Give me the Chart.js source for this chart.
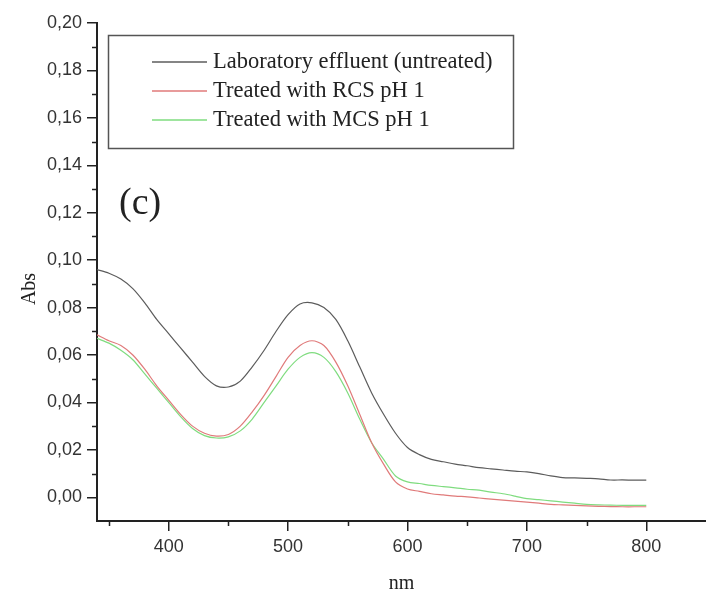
<!DOCTYPE html>
<html>
<head>
<meta charset="utf-8">
<script src="https://cdn.jsdelivr.net/npm/chart.js@4/dist/chart.umd.min.js"></script>
<style>
html,body{margin:0;padding:0;background:#fff;}
canvas{display:block;}
</style>
</head>
<body>
<canvas id="c" width="706" height="597"></canvas>
<script>
// wavelength (nm)
const wavelengths = [340,350,360,370,380,390,400,410,420,430,440,450,460,470,480,490,500,510,520,530,540,550,560,570,580,590,600,610,620,630,640,650,660,670,680,690,700,710,720,730,740,750,760,770,780,790,800];
const untreated = [0.096,0.0945,0.092,0.088,0.082,0.075,0.069,0.063,0.057,0.051,0.047,0.0465,0.049,0.055,0.062,0.070,0.077,0.0815,0.082,0.080,0.075,0.066,0.055,0.044,0.035,0.027,0.021,0.018,0.016,0.015,0.014,0.0133,0.0125,0.012,0.0115,0.011,0.0107,0.010,0.009,0.0083,0.0082,0.008,0.0078,0.0073,0.0073,0.0072,0.0072];
const treatedRCS = [0.0685,0.066,0.064,0.060,0.054,0.047,0.041,0.035,0.030,0.027,0.0258,0.0265,0.030,0.036,0.043,0.051,0.059,0.064,0.066,0.064,0.057,0.047,0.035,0.023,0.014,0.0065,0.0035,0.0025,0.0015,0.001,0.0005,0.0002,-0.0003,-0.0008,-0.0012,-0.0016,-0.002,-0.0025,-0.003,-0.0032,-0.0034,-0.0036,-0.0038,-0.0039,-0.004,-0.004,-0.004];
const treatedMCS = [0.067,0.065,0.062,0.058,0.052,0.046,0.040,0.034,0.029,0.026,0.025,0.0255,0.028,0.033,0.040,0.047,0.054,0.059,0.061,0.059,0.053,0.044,0.033,0.023,0.016,0.009,0.0065,0.0058,0.005,0.0045,0.004,0.0034,0.003,0.0022,0.0015,0.0005,-0.0006,-0.001,-0.0015,-0.002,-0.0025,-0.003,-0.0032,-0.0033,-0.0034,-0.0034,-0.0034];
const seriesLabels = ["Laboratory effluent (untreated)", "Treated with RCS pH 1", "Treated with MCS pH 1"];
const xTickValues = [400,500,600,700,800];
const yTickValues = [0,0.02,0.04,0.06,0.08,0.10,0.12,0.14,0.16,0.18,0.20];
const xMinorTicks = [350,450,550,650,750,850];
const yMinorTicks = [0.01,0.03,0.05,0.07,0.09,0.11,0.13,0.15,0.17,0.19];
const panelLabel = "(c)";
const yAxisTitle = "Abs";
const xAxisTitle = "nm";

const toPts = (ys) => ys.map((y, i) => ({x: wavelengths[i], y: y}));

const minorTicksPlugin = {
  id: 'minorTicks',
  afterDraw(chart) {
    const ctx = chart.ctx;
    const xs = chart.scales.x, ys = chart.scales.y;
    const area = chart.chartArea;
    ctx.save();
    ctx.strokeStyle = '#222';
    ctx.lineWidth = 1.5;
    ctx.beginPath();
    xMinorTicks.forEach(v => {
      const px = Math.round(xs.getPixelForValue(v)) + 0.5;
      if (px < area.left || px > area.right) return;
      ctx.moveTo(px, area.bottom);
      ctx.lineTo(px, area.bottom + 5);
    });
    yMinorTicks.forEach(v => {
      const py = Math.round(ys.getPixelForValue(v)) + 0.5;
      ctx.moveTo(area.left, py);
      ctx.lineTo(area.left - 5, py);
    });
    ctx.stroke();
    ctx.restore();
  }
};

const legendBoxPlugin = {
  id: 'legendBox',
  afterDraw(chart) {
    const ctx = chart.ctx;
    ctx.save();
    ctx.strokeStyle = '#555';
    ctx.lineWidth = 1.5;
    ctx.strokeRect(108.5, 35.5, 405, 113);
    ctx.font = '22.5px "Liberation Serif", "Times New Roman", serif';
    ctx.textBaseline = 'middle';
    ctx.fillStyle = '#222';
    const rows = [62, 91, 120];
    chart.data.datasets.forEach((ds, i) => {
      ctx.strokeStyle = ds.borderColor;
      ctx.lineWidth = 1.5;
      ctx.beginPath();
      ctx.moveTo(152, rows[i]);
      ctx.lineTo(207, rows[i]);
      ctx.stroke();
      ctx.fillText(ds.label, 213, rows[i]);
    });
    ctx.font = '38px "Liberation Serif", "Times New Roman", serif';
    ctx.fillText(panelLabel, 119, 204);
    // axis titles
    ctx.font = '20px "Liberation Serif", "Times New Roman", serif';
    ctx.textAlign = 'center';
    ctx.fillText(xAxisTitle, (chart.chartArea.left + chart.chartArea.right) / 2, 584);
    ctx.translate(30, 289);
    ctx.rotate(-Math.PI / 2);
    ctx.fillText(yAxisTitle, 0, 0);
    ctx.restore();
  }
};

new Chart(document.getElementById('c'), {
  type: 'line',
  data: {
    datasets: [
      {label: seriesLabels[0], data: toPts(untreated), borderColor: '#5c5c5c', borderWidth: 1.2, pointRadius: 0, tension: 0.3, fill: false},
      {label: seriesLabels[1], data: toPts(treatedRCS), borderColor: '#e07a7a', borderWidth: 1.2, pointRadius: 0, tension: 0.3, fill: false},
      {label: seriesLabels[2], data: toPts(treatedMCS), borderColor: '#7fdc7f', borderWidth: 1.2, pointRadius: 0, tension: 0.3, fill: false}
    ]
  },
  options: {
    responsive: false,
    animation: false,
    devicePixelRatio: 1,
    layout: {padding: {left: 0, right: 0, top: 23, bottom: 0}},
    plugins: {legend: {display: false}, tooltip: {enabled: false}},
    scales: {
      x: {
        type: 'linear',
        min: 340, max: 850,
        grid: {drawOnChartArea: false, drawTicks: true, tickLength: 10, color: '#222', lineWidth: 1.5},
        border: {display: true, color: '#222', width: 2},
        ticks: {padding: 5, color: '#333',
          font: {family: '"Liberation Sans", Arial, sans-serif', size: 18},
          maxRotation: 0, autoSkip: false},
        afterBuildTicks(scale) { scale.ticks = xTickValues.map(v => ({value: v})); },
        title: {display: false},
        afterFit(scale) { scale.height = 76; scale.paddingRight = 0; scale.paddingLeft = 0; }
      },
      y: {
        type: 'linear',
        min: -0.01, max: 0.20,
        grid: {drawOnChartArea: false, drawTicks: true, tickLength: 10, color: '#222', lineWidth: 1.5},
        border: {display: true, color: '#222', width: 2},
        ticks: {padding: 5, color: '#333',
          font: {family: '"Liberation Sans", Arial, sans-serif', size: 18},
          callback: (v) => v.toFixed(2).replace('.', ',')},
        afterBuildTicks(scale) { scale.ticks = yTickValues.map(v => ({value: v})); },
        title: {display: false},
        afterFit(scale) { scale.width = 97; }
      }
    }
  },
  plugins: [minorTicksPlugin, legendBoxPlugin]
});
</script>
</body>
</html>
